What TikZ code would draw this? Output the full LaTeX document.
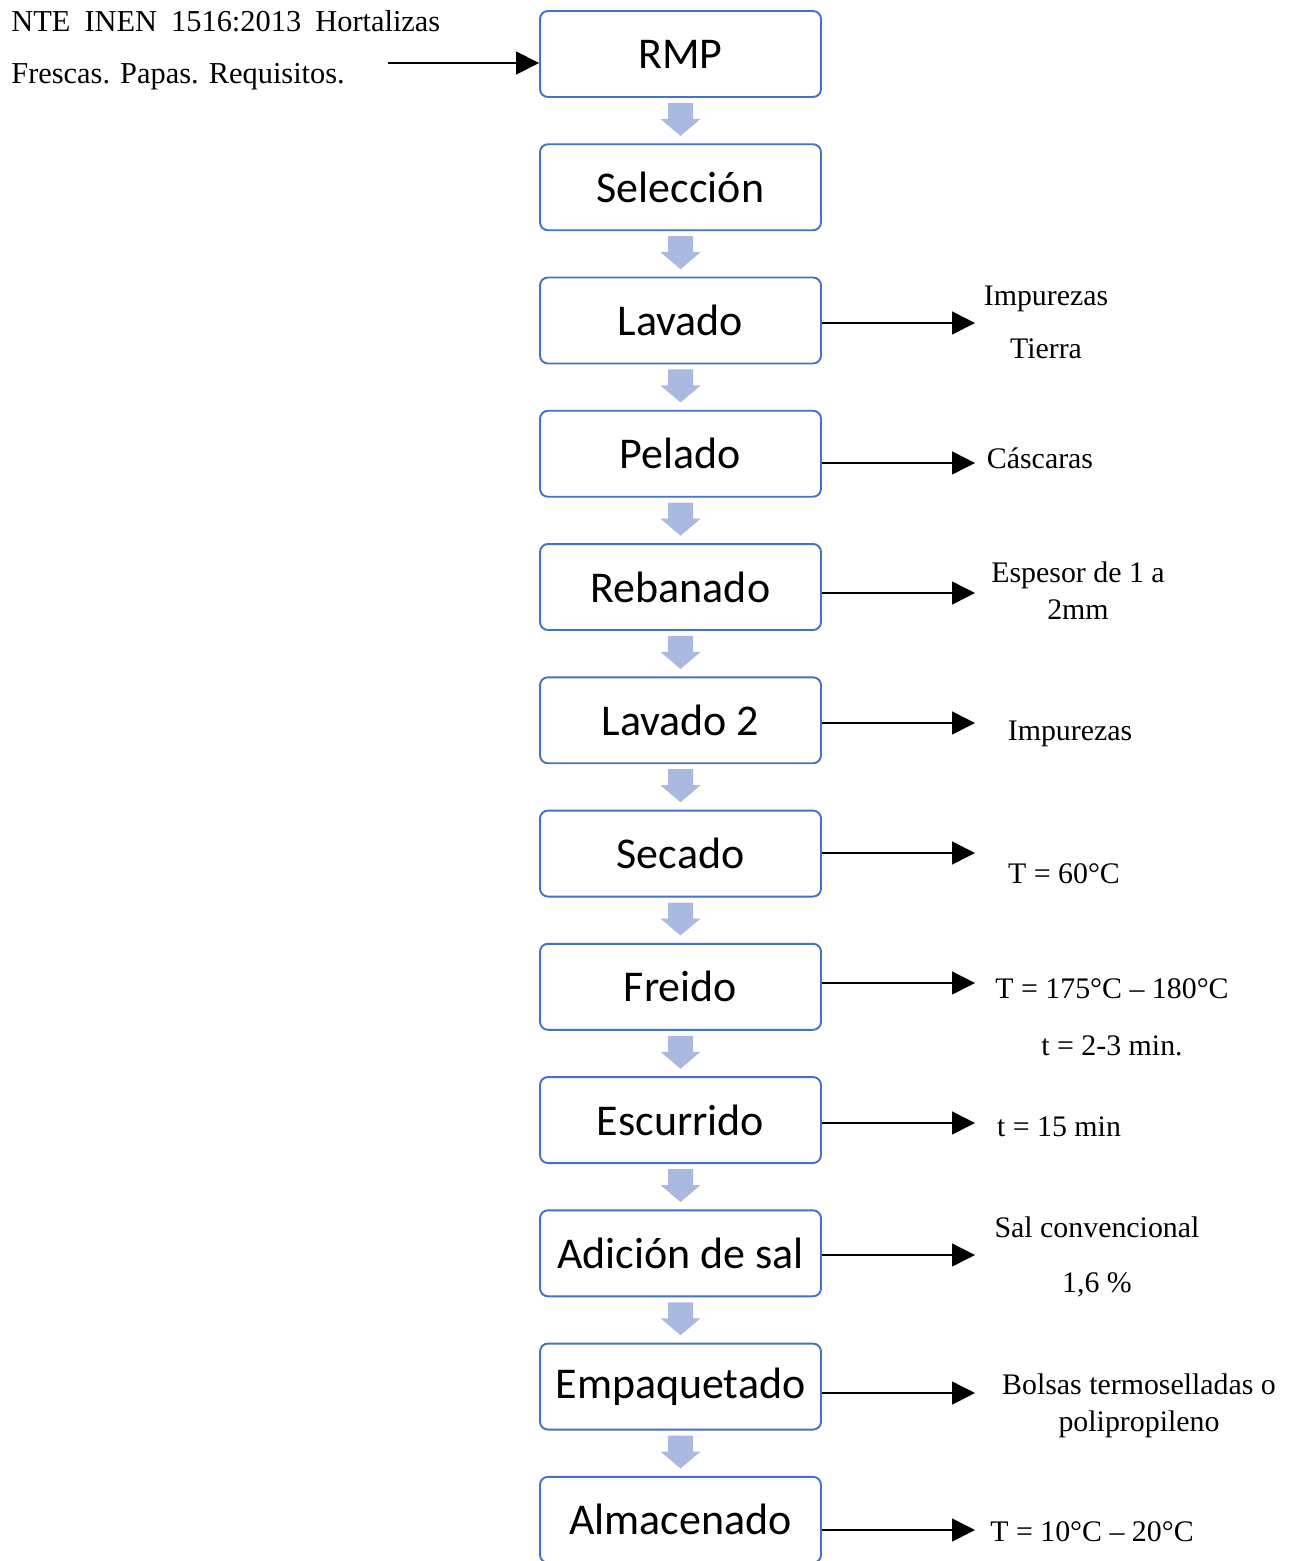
\documentclass[tikz,border=0pt]{standalone}
\usepackage{fontspec}
\setmainfont{Liberation Serif}
\newfontfamily\calibrifont{Carlito}
\usetikzlibrary{positioning, arrows.meta}
\definecolor{boxblue}{HTML}{4472C4}
\definecolor{flowgray}{HTML}{A9B9DF}

\tikzset{
  stepbox/.style={draw=boxblue, line width=1.1pt, rounded corners=4.5pt, fill=white,
    minimum width=5.62cm, minimum height=1.72cm, font=\calibrifont\fontsize{25}{30}\selectfont},
  outarrow/.style={-{Triangle[length=0.46cm,width=0.46cm]}, line width=0.8pt},
  note/.style={font=\fontsize{17}{20.4}\selectfont, align=center, anchor=base, inner sep=0pt},
}

\begin{document}
\begin{tikzpicture}[x=0.02cm, y=0.02cm, node distance=0.907cm]
\useasboundingbox (0,0) rectangle (1297,-1561);

% process steps
\node[stepbox] (rmp) at (680.5,-54) {RMP};
\node[stepbox, below=of rmp] (sel) {Selección};
\node[stepbox, below=of sel] (lav) {Lavado};
\node[stepbox, below=of lav] (pel) {Pelado};
\node[stepbox, below=of pel] (reb) {Rebanado};
\node[stepbox, below=of reb] (lavb) {Lavado 2};
\node[stepbox, below=of lavb] (sec) {Secado};
\node[stepbox, below=of sec] (fre) {Freido};
\node[stepbox, below=of fre] (esc) {Escurrido};
\node[stepbox, below=of esc] (adi) {Adición de sal};
\node[stepbox, below=of adi] (emp) {Empaquetado};
\node[stepbox, below=of emp] (alm) {Almacenado};

% block arrows between steps
\foreach \a in {rmp, sel, lav, pel, reb, lavb, sec, fre, esc, adi, emp} {
  \fill[flowgray, shift={(\a.south)}] (-12.5,-5) -- (12.5,-5) -- (12.5,-21) -- (20,-21)
    -- (0,-38) -- (-20,-21) -- (-12.5,-21) -- cycle;
}

% norm on the left
\node[anchor=base west, text width=8.58cm, align=justify, inner sep=0pt,
  font=\fontsize{17.3}{29.5}\selectfont] (norm) at (11,-32)
  {\hyphenpenalty=10000\tolerance=9999 NTE INEN 1516:2013 Hortalizas Frescas. Papas. Requisitos.};
\coordinate (normStart) at (388,-63);
\draw[outarrow] (normStart) -- (normStart -| rmp.west);

% outputs on the right
\coordinate (lavTip) at (975,-323);
\coordinate (pelTip) at (975,-463);
\coordinate (rebTip) at (975,-593);
\coordinate (lavbTip) at (975,-723);
\coordinate (secTip) at (975,-853);
\coordinate (freTip) at (975,-983);
\coordinate (escTip) at (975,-1123);
\coordinate (adiTip) at (975,-1255);
\coordinate (empTip) at (975,-1393);
\coordinate (almTip) at (975,-1530);
\foreach \s in {lav, pel, reb, lavb, sec, fre, esc, adi, emp, alm}
  \draw[outarrow] (\s.east |- \s Tip) -- (\s Tip);

\node[note] (lavTxt) at (1046,-358) {Impurezas\\[9.6pt]Tierra};
\node[note] (pelTxt) at (1040,-468) {Cáscaras};
\node[note] (rebTxt) at (1078,-619) {Espesor de 1 a\\[0.6pt]2mm};
\node[note] (lavbTxt) at (1070,-740) {Impurezas};
\node[note] (secTxt) at (1064,-883) {T = 60°C};
\node[note] (freTxt) at (1112,-1055) {T = 175°C – 180°C\\[12pt]t = 2-3 min.};
\node[note] (escTxt) at (1059,-1136) {t = 15 min};
\node[note] (adiTxt) at (1097,-1292) {Sal convencional\\[10.8pt]1,6 \%};
\node[note] (empTxt) at (1139,-1431) {Bolsas termoselladas o\\[0.6pt]polipropileno};
\node[note] (almTxt) at (1092,-1541) {T = 10°C – 20°C};
\end{tikzpicture}
\end{document}
